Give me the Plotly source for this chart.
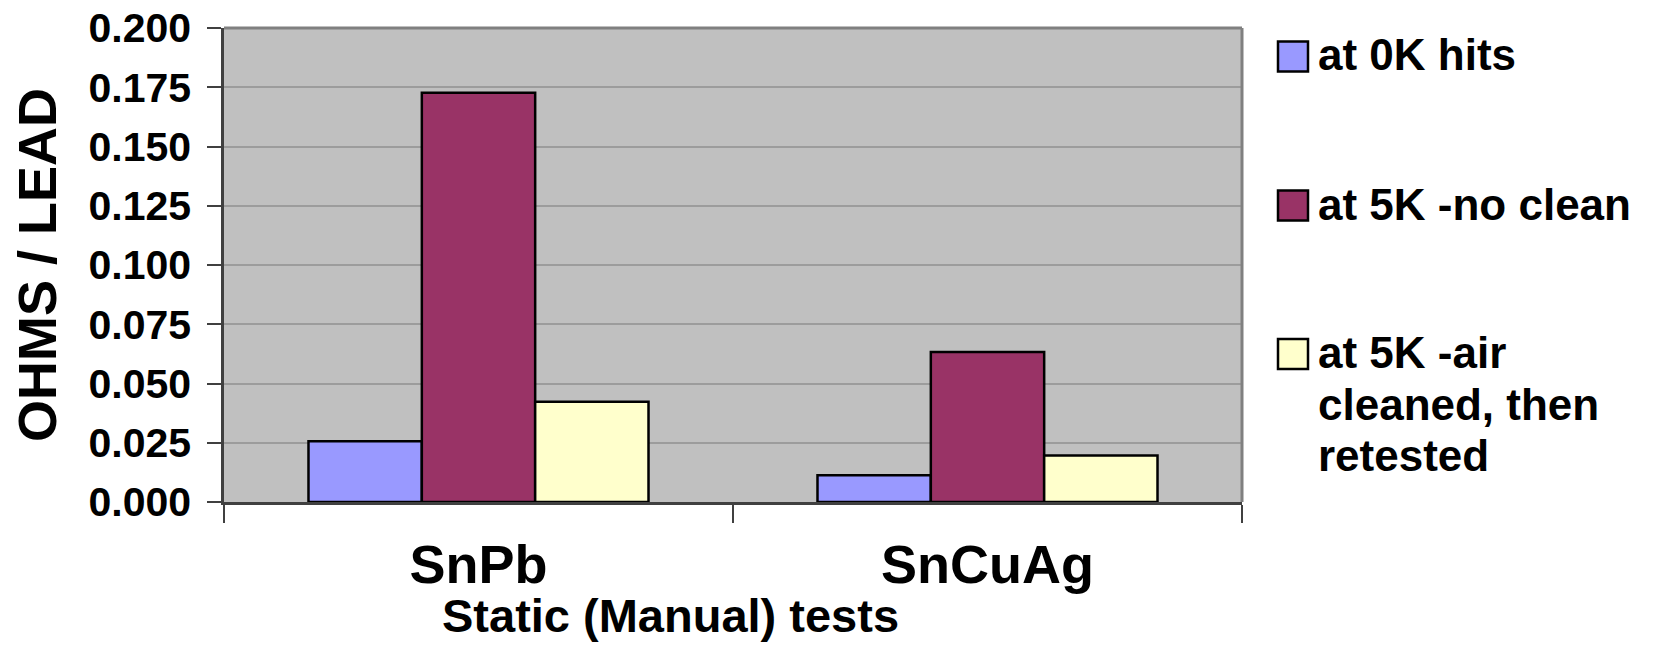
"""
Static (Manual) tests - resistance per lead, grouped bar chart
"""
import plotly.graph_objects as go

# Data
CATEGORIES = ['SnPb', 'SnCuAg']
SERIES_NAMES = ['at 0K hits', 'at 5K -no clean', 'at 5K -air cleaned, then retested']
OK_HITS = [0.0256, 0.0113]
NO_CLEAN = [0.1727, 0.0633]
AIR_CLEANED = [0.0423, 0.0196]
SERIES_COLORS = ['#9999FF', '#993366', '#FFFFCC']
LEGEND_LINES = [['at 0K hits'], ['at 5K -no clean'], ['at 5K -air', 'cleaned, then', 'retested']]
Y_TICKS = [0.0, 0.025, 0.05, 0.075, 0.1, 0.125, 0.15, 0.175, 0.2]

FONT = 'Liberation Sans, Arial, sans-serif'

# Geometry, in pixels (the page's body margin is removed in write_html below)
WIDTH, HEIGHT = 1655, 652
PLOT_LEFT, PLOT_RIGHT = 224, 1242
PLOT_TOP, PLOT_BOTTOM = 28, 502


def px_to_paper(x=None, y=None):
    """Convertit des pixels en coordonnées 'paper'"""
    out = []
    if x is not None:
        out.append((x - PLOT_LEFT) / (PLOT_RIGHT - PLOT_LEFT))
    if y is not None:
        out.append((PLOT_BOTTOM - y) / (PLOT_BOTTOM - PLOT_TOP))
    return out[0] if len(out) == 1 else out


def create_chart():
    fig = go.Figure()

    for name, values, color in zip(SERIES_NAMES, [OK_HITS, NO_CLEAN, AIR_CLEANED], SERIES_COLORS):
        fig.add_trace(go.Bar(
            x=CATEGORIES,
            y=values,
            name=name,
            marker=dict(color=color, line=dict(color='black', width=2.5)),
            showlegend=False
        ))

    # Top and right border of the plot area
    fig.add_shape(type='line', xref='paper', yref='paper', x0=0, x1=1, y0=1, y1=1,
                  line=dict(color='#808080', width=3), layer='above')
    fig.add_shape(type='line', xref='paper', yref='paper', x0=1, x1=1, y0=0, y1=1,
                  line=dict(color='#808080', width=3), layer='above')

    # Hand-made legend (big squares like the original)
    item_centers = [56.5, 205.5, 354]
    for i, (lines, color) in enumerate(zip(LEGEND_LINES, SERIES_COLORS)):
        cy = item_centers[i]
        x0, y1 = px_to_paper(1278, cy - 15)
        x1, y0 = px_to_paper(1308, cy + 15)
        fig.add_shape(type='rect', xref='paper', yref='paper', x0=x0, x1=x1, y0=y0, y1=y1,
                      fillcolor=color, line=dict(color='black', width=2.5))
        for j, line in enumerate(lines):
            fig.add_annotation(
                text=line, xref='paper', yref='paper',
                x=px_to_paper(x=1316), y=px_to_paper(y=cy - 1.5 + j * 51.5),
                xanchor='left', yanchor='middle', showarrow=False,
                font=dict(family=FONT, size=44, color='black', weight='bold')
            )

    # Axis titles
    fig.add_annotation(
        text='OHMS / LEAD', xref='paper', yref='paper',
        x=px_to_paper(x=37), y=0.5, textangle=-90,
        xanchor='center', yanchor='middle', showarrow=False,
        font=dict(family=FONT, size=54, color='black', weight='bold')
    )
    fig.add_annotation(
        text='Static (Manual) tests', xref='paper', yref='paper',
        x=px_to_paper(x=670), y=px_to_paper(y=615),
        xanchor='center', yanchor='middle', showarrow=False,
        font=dict(family=FONT, size=47, color='black', weight='bold')
    )

    fig.update_layout(
        width=WIDTH,
        height=HEIGHT,
        margin=dict(l=PLOT_LEFT, r=WIDTH - PLOT_RIGHT, t=PLOT_TOP, b=HEIGHT - PLOT_BOTTOM, pad=0),
        barmode='group',
        bargap=0.332,
        bargroupgap=0,
        plot_bgcolor='#C0C0C0',
        paper_bgcolor='white',
        font=dict(family=FONT, color='black'),
        showlegend=False
    )

    fig.update_xaxes(
        type='category',
        range=[-0.5, 1.5],
        automargin=False,
        tickson='boundaries',
        ticks='outside',
        ticklen=18,
        tickwidth=2,
        tickcolor='#404040',
        showline=True,
        linecolor='#404040',
        linewidth=2.5,
        showgrid=False,
        ticklabelstandoff=13,
        tickfont=dict(family=FONT, size=54, color='black', weight='bold')
    )
    fig.update_yaxes(
        range=[0, 0.2],
        automargin=False,
        tickvals=Y_TICKS,
        tickformat='.3f',
        ticks='outside',
        ticklen=14,
        tickwidth=2,
        tickcolor='#404040',
        showline=True,
        linecolor='#404040',
        linewidth=2.5,
        showgrid=True,
        gridcolor='#9C9C9C',
        gridwidth=1.5,
        zeroline=False,
        ticklabelstandoff=8,
        ticklabeloverflow='allow',
        tickfont=dict(family=FONT, size=41, color='black', weight='bold')
    )

    return fig


fig = create_chart()
# Remove the default 8px body margin so the figure sits at the page's corner
fig.write_html("out.html", config={'displayModeBar': False},
               post_script="document.body.style.margin = '0';")
